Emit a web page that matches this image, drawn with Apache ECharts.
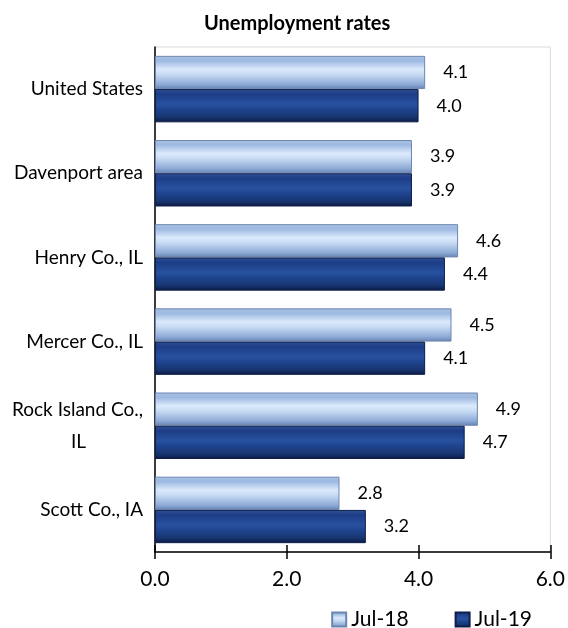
<!DOCTYPE html>
<html>
<head>
<meta charset="utf-8">
<script src="https://cdn.jsdelivr.net/npm/echarts@6/dist/echarts.min.js"></script>
<style>
  html, body { margin: 0; padding: 0; background: #fff; }
  #chart { width: 568px; height: 628px; }
</style>
</head>
<body>
<div id="chart"></div>
<script>
var categories = ['United States', 'Davenport area', 'Henry Co., IL', 'Mercer Co., IL', 'Rock Island Co., IL', 'Scott Co., IA'];
var jul18 = [4.1, 3.9, 4.6, 4.5, 4.9, 2.8];
var jul19 = [4.0, 3.9, 4.4, 4.1, 4.7, 3.2];
var xTicks = [0, 2, 4, 6];

var FONT = 'Lato, "Open Sans", sans-serif';

function grad(stops) {
    return new echarts.graphic.LinearGradient(0, 0, 0, 1, stops.map(function(s) {
        return { offset: s[0], color: s[1] };
    }));
}

var lightFill = grad([[0, '#a9c1e3'], [0.15, '#9db9e1'], [0.4, '#dbe9fb'], [0.55, '#c9dcf4'], [0.85, '#8fabd7'], [1, '#6883b2']]);
var darkFill = grad([[0, '#2f5298'], [0.15, '#1d3d86'], [0.45, '#27519f'], [0.6, '#1f4590'], [0.85, '#17346f'], [1, '#0b1940']]);

var valueLabel = {
    show: true, position: 'right', distance: 18,
    fontFamily: FONT, fontSize: 18, color: '#000',
    formatter: function(p) { return p.value.toFixed(1); }
};

var chart = echarts.init(document.getElementById('chart'));

chart.setOption({
    animation: false,
    title: {
        text: 'Unemployment rates',
        left: 199,
        top: 9,
        textStyle: { fontFamily: FONT, fontSize: 20, fontWeight: 'bold', color: '#000' }
    },
    legend: {
        right: 31,
        bottom: -7,
        itemWidth: 14,
        itemHeight: 14,
        itemGap: 46,
        icon: 'rect',
        textStyle: { fontFamily: FONT, fontSize: 21, color: '#000' },
        data: ['Jul-18', 'Jul-19']
    },
    grid: {
        left: 155,
        right: 16,
        top: 47,
        bottom: 76,
        show: true,
        borderColor: '#d9d9d9',
        borderWidth: 1
    },
    xAxis: [
        {
            type: 'value',
            min: xTicks[0],
            max: xTicks[xTicks.length - 1],
            interval: 2,
            axisLine: { show: true, lineStyle: { color: '#000', width: 1.5 } },
            axisTick: { show: true, length: 7, lineStyle: { color: '#000', width: 1.5 } },
            splitLine: { show: false },
            axisLabel: {
                fontFamily: FONT, fontSize: 21, color: '#000', margin: 17,
                formatter: function(v) { return v.toFixed(1); }
            }
        },
        {
            // inner half of the crossing tick marks
            type: 'value',
            position: 'bottom',
            min: xTicks[0],
            max: xTicks[xTicks.length - 1],
            interval: 2,
            axisLine: { show: false },
            axisTick: { show: true, inside: true, length: 7, lineStyle: { color: '#000', width: 1.5 } },
            splitLine: { show: false },
            axisLabel: { show: false }
        }
    ],
    yAxis: {
        type: 'category',
        inverse: true,
        data: categories,
        axisLine: { show: true, lineStyle: { color: '#000', width: 1.5 } },
        axisTick: { show: false },
        axisLabel: {
            fontFamily: FONT, fontSize: 19, color: '#000', margin: 12,
            formatter: function(v) {
                if (v === 'Rock Island Co., IL') return '{a|Rock Island Co.,}\n{b|IL}';
                return v;
            },
            rich: {
                a: { fontFamily: FONT, fontSize: 19, color: '#000', lineHeight: 32 },
                b: { fontFamily: FONT, fontSize: 19, color: '#000', lineHeight: 32, padding: [0, 57, 0, 0] }
            }
        }
    },
    series: [
        {
            name: 'Jul-18',
            type: 'bar',
            data: jul18,
            barGap: '0%',
            barCategoryGap: '21%',
            itemStyle: { color: lightFill, borderColor: '#6d86b0', borderWidth: 1 },
            label: valueLabel
        },
        {
            name: 'Jul-19',
            type: 'bar',
            data: jul19,
            barGap: '0%',
            barCategoryGap: '21%',
            itemStyle: { color: darkFill, borderColor: '#0d1e4a', borderWidth: 1 },
            label: valueLabel
        }
    ]
});
</script>
</body>
</html>
